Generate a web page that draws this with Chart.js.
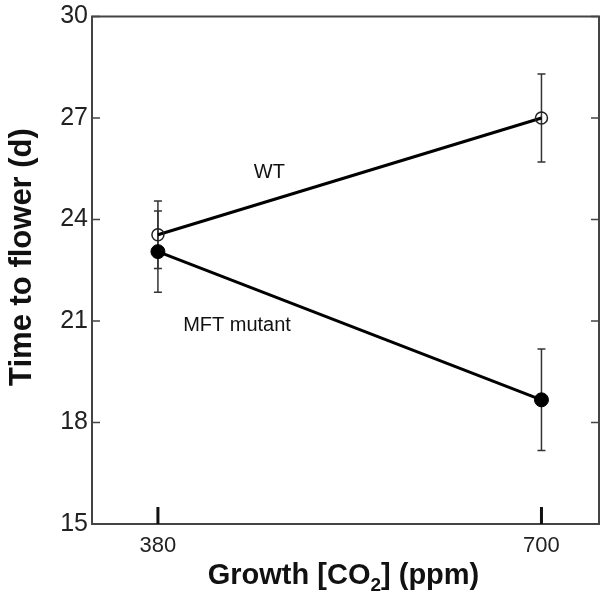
<!DOCTYPE html>
<html>
<head>
<meta charset="utf-8">
<script src="https://cdn.jsdelivr.net/npm/chart.js@4.4.1/dist/chart.umd.min.js"></script>
<style>
  html, body { margin: 0; padding: 0; background: #fff; }
  #wrap { width: 609px; height: 594px; }
</style>
</head>
<body>
<div id="wrap"><canvas id="flowerChart"></canvas></div>
<script>
// data
var co2 = [380, 700];
var wtMean = [23.55, 27.0];
var wtErr = [1.0, 1.3];
var mftMean = [23.05, 18.67];
var mftErr = [1.2, 1.5];
var yTicks = [15, 18, 21, 24, 27, 30];
var lineLabels = [
    { text: 'WT', x: 473, y: 25.4 },
    { text: 'MFT mutant', x: 446, y: 20.86 }
];

var FONT = "'Liberation Sans', Arial, sans-serif";
var AXIS = '#444';

function points(means) {
    return co2.map((c, i) => ({ x: c, y: means[i] }));
}

// error bars, box frame, inward ticks, line labels and the axis titles
var extras = {
    id: 'extras',
    beforeDatasetsDraw(chart) {
        var ctx = chart.ctx, xs = chart.scales.x, ys = chart.scales.y;
        ctx.save();
        ctx.strokeStyle = '#333';
        ctx.lineWidth = 1.5;
        [[wtMean, wtErr], [mftMean, mftErr]].forEach(pair => {
            co2.forEach((c, i) => {
                var px = xs.getPixelForValue(c);
                var top = ys.getPixelForValue(pair[0][i] + pair[1][i]);
                var bot = ys.getPixelForValue(pair[0][i] - pair[1][i]);
                ctx.beginPath();
                ctx.moveTo(px, top); ctx.lineTo(px, bot);
                ctx.moveTo(px - 4, top); ctx.lineTo(px + 4, top);
                ctx.moveTo(px - 4, bot); ctx.lineTo(px + 4, bot);
                ctx.stroke();
            });
        });
        ctx.restore();
    },
    afterDraw(chart) {
        var ctx = chart.ctx, a = chart.chartArea;
        var xs = chart.scales.x, ys = chart.scales.y;
        ctx.save();
        ctx.strokeStyle = AXIS;
        ctx.lineWidth = 2;
        ctx.strokeRect(a.left, a.top, a.right - a.left, a.bottom - a.top);

        // y ticks pointing inward on both sides
        ctx.lineWidth = 1.5;
        yTicks.forEach(v => {
            var py = ys.getPixelForValue(v);
            ctx.beginPath();
            ctx.moveTo(a.left, py); ctx.lineTo(a.left + 8, py);
            ctx.moveTo(a.right, py); ctx.lineTo(a.right - 8, py);
            ctx.stroke();
        });
        // thick x ticks
        ctx.strokeStyle = '#111';
        ctx.lineWidth = 3;
        co2.forEach(c => {
            var px = xs.getPixelForValue(c);
            ctx.beginPath();
            ctx.moveTo(px, a.bottom); ctx.lineTo(px, a.bottom - 17);
            ctx.stroke();
        });

        // labels beside the lines
        ctx.fillStyle = '#111';
        ctx.font = '20px ' + FONT;
        ctx.textAlign = 'center';
        ctx.textBaseline = 'middle';
        lineLabels.forEach(l => {
            ctx.fillText(l.text, xs.getPixelForValue(l.x), ys.getPixelForValue(l.y));
        });

        // y axis title
        ctx.save();
        ctx.translate(22, 257);
        ctx.rotate(-Math.PI / 2);
        ctx.font = 'bold 31px ' + FONT;
        ctx.fillText('Time to flower (d)', 0, 0);
        ctx.restore();

        // x axis title: Growth [CO2] (ppm)
        var parts = [
            { t: 'Growth [CO', f: 'bold 29px ' + FONT, dy: 0 },
            { t: '2', f: 'bold 19px ' + FONT, dy: 7 },
            { t: '] (ppm)', f: 'bold 29px ' + FONT, dy: 0 }
        ];
        var total = 0;
        parts.forEach(p => { ctx.font = p.f; p.w = ctx.measureText(p.t).width; total += p.w; });
        var x0 = (a.left + a.right) / 2 - 2 - total / 2;
        var base = 584;
        ctx.textAlign = 'left';
        ctx.textBaseline = 'alphabetic';
        parts.forEach(p => {
            ctx.font = p.f;
            ctx.fillText(p.t, x0, base + p.dy);
            x0 += p.w;
        });
        ctx.restore();
    }
};

var flowerChart = new Chart("flowerChart", {
    type: 'scatter',
    data: {
        datasets: [{
            label: 'WT',
            data: points(wtMean),
            showLine: true,
            borderColor: '#000',
            borderWidth: 3,
            pointRadius: 6,
            pointBorderWidth: 1.5,
            pointBackgroundColor: 'rgba(255, 255, 255, 0)',
            pointBorderColor: '#222'
        }, {
            label: 'MFT mutant',
            data: points(mftMean),
            showLine: true,
            borderColor: '#000',
            borderWidth: 3,
            pointRadius: 7,
            pointBorderWidth: 1,
            pointBackgroundColor: '#000',
            pointBorderColor: '#000'
        }]
    },
    options: {
        responsive: true,
        maintainAspectRatio: false,
        animation: false,
        layout: {
            padding: { top: 14, right: 10, left: 0, bottom: 0 }
        },
        scales: {
            x: {
                type: 'linear',
                min: 325,
                max: 748,
                afterBuildTicks: scale => {
                    scale.ticks = co2.map(v => ({ value: v }));
                },
                afterFit: scale => { scale.height = 70; },
                ticks: {
                    color: '#222',
                    padding: 9,
                    font: { family: FONT, size: 22 }
                },
                grid: {
                    drawOnChartArea: false,
                    drawTicks: false
                },
                border: { display: false }
            },
            y: {
                min: 15,
                max: 30,
                afterBuildTicks: scale => {
                    scale.ticks = yTicks.map(v => ({ value: v }));
                },
                afterFit: scale => { scale.width = 92; },
                ticks: {
                    color: '#222',
                    padding: 4,
                    font: { family: FONT, size: 25, lineHeight: 1 }
                },
                grid: {
                    drawOnChartArea: false,
                    drawTicks: false
                },
                border: { display: false }
            }
        },
        plugins: {
            legend: { display: false },
            tooltip: { enabled: false }
        }
    },
    plugins: [extras]
});
</script>
</body>
</html>
